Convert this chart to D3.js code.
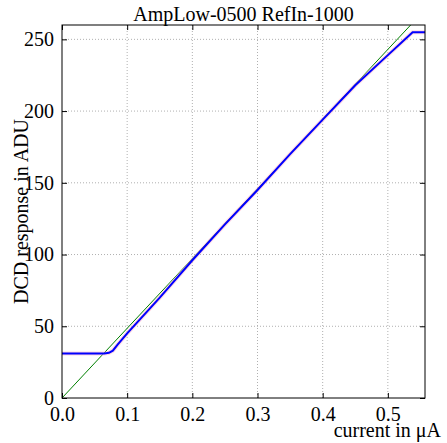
<!DOCTYPE html>
<html>
<head>
<meta charset="utf-8">
<title>AmpLow-0500 RefIn-1000</title>
<script src="https://cdn.jsdelivr.net/npm/d3@7"></script>
<style>
  body { margin: 0; background: #fff; }
  svg text { font-family: "Liberation Serif", serif; fill: #000; }
  .grid line { stroke: #b0b0b0; stroke-dasharray: 1,2; }
</style>
</head>
<body>
<svg id="chart" width="447" height="443"></svg>
<script>
// measured response (current in uA -> ADU)
var current = [0, 0.02, 0.04, 0.065, 0.072, 0.078, 0.085, 0.1, 0.15, 0.2, 0.25, 0.3, 0.35, 0.4, 0.45, 0.5, 0.538, 0.557];
var response = [31, 31, 31, 31, 31.5, 33, 37, 45, 70, 96, 121, 145, 170, 194, 218, 239, 255, 255];
// ideal line
var idealX = [0, 0.535];
var idealY = [0, 260];
var xTicks = [0.0, 0.1, 0.2, 0.3, 0.4, 0.5];
var yTicks = [0, 50, 100, 150, 200, 250];

var svg = d3.select('#chart');
var m = {left: 62, right: 22, top: 25, bottom: 45};
var w = 447 - m.left - m.right, h = 443 - m.top - m.bottom;
var x = d3.scaleLinear().domain([0, 0.557]).range([0, w]);
var y = d3.scaleLinear().domain([0, 260]).range([h, 0]);
var g = svg.append('g').attr('transform', 'translate(' + m.left + ',' + m.top + ')');

// grid
g.append('g').attr('class', 'grid').selectAll('line').data(xTicks.slice(1)).enter().append('line')
  .attr('x1', function(d){ return x(d); }).attr('x2', function(d){ return x(d); })
  .attr('y1', 0).attr('y2', h);
g.append('g').attr('class', 'grid').selectAll('line').data(yTicks.slice(1)).enter().append('line')
  .attr('x1', 0).attr('x2', w)
  .attr('y1', function(d){ return y(d); }).attr('y2', function(d){ return y(d); });

var line = d3.line().x(function(d){ return x(d[0]); }).y(function(d){ return y(d[1]); });
var pts = d3.zip(current, response);

g.append('path').datum(d3.zip(idealX, idealY)).attr('d', line)
  .attr('fill', 'none').attr('stroke', 'green').attr('stroke-width', 1);
g.append('path').datum(pts).attr('d', line)
  .attr('fill', 'none').attr('stroke', '#ffb0c4').attr('stroke-width', 4).attr('opacity', 0.5);
g.append('path').datum(pts).attr('d', line)
  .attr('fill', 'none').attr('stroke', 'blue').attr('stroke-width', 2);

// axes with inward ticks
var xAxis = d3.axisBottom(x).tickValues(xTicks).tickFormat(d3.format('.1f')).tickSizeInner(-5).tickSizeOuter(0).tickPadding(9);
var yAxis = d3.axisLeft(y).tickValues(yTicks).tickSizeInner(-5).tickSizeOuter(0).tickPadding(8);
var xa = g.append('g').attr('transform', 'translate(0,' + h + ')').call(xAxis);
var ya = g.append('g').call(yAxis);
g.append('g').call(d3.axisRight(y).tickValues(yTicks).tickFormat('').tickSizeInner(-5).tickSizeOuter(0)).attr('transform', 'translate(' + w + ',0)');
g.append('g').call(d3.axisTop(x).tickValues(xTicks).tickFormat('').tickSizeInner(-5).tickSizeOuter(0));
g.selectAll('.domain').remove();
[xa, ya].forEach(function(a){ a.selectAll('text').style('font-size', '20px').style('font-family', '"Liberation Serif", serif'); });

g.append('rect').attr('width', w).attr('height', h).attr('fill', 'none').attr('stroke', '#000').attr('stroke-width', 1);

svg.append('text').attr('x', m.left + w / 2).attr('y', 21).attr('text-anchor', 'middle')
  .style('font-size', '20px').text('AmpLow-0500 RefIn-1000');
svg.append('text').attr('x', 441).attr('y', 437).attr('text-anchor', 'end')
  .style('font-size', '20px').text('current in μA');
svg.append('text').attr('transform', 'translate(28,' + (m.top + h / 2) + ') rotate(-90)').attr('text-anchor', 'middle')
  .style('font-size', '20px').text('DCD response in ADU');
</script>
</body>
</html>
